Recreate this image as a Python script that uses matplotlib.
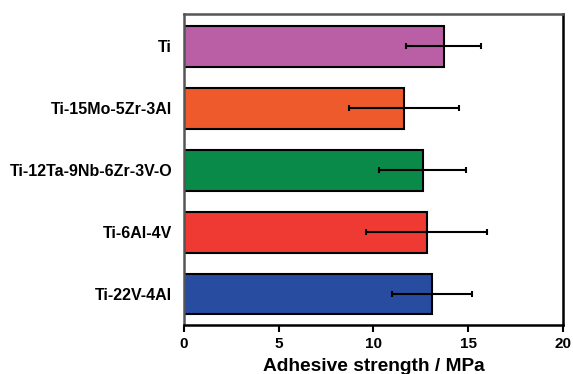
import matplotlib.pyplot as plt

plt.rcParams['font.family'] = ['Liberation Sans', 'DejaVu Sans']
plt.rcParams['font.weight'] = 'bold'

# 数据
alloys = ['Ti', 'Ti-15Mo-5Zr-3Al', 'Ti-12Ta-9Nb-6Zr-3V-O', 'Ti-6Al-4V', 'Ti-22V-4Al']
strength = [13.7, 11.6, 12.6, 12.8, 13.1]
err = [2.0, 2.9, 2.3, 3.2, 2.1]
colors = ['#BA5FA5', '#EE5A2C', '#0A8A48', '#EE3A33', '#284CA0']

fig = plt.figure(figsize=(5.73, 3.74), dpi=100)
ax = fig.add_axes([0.321, 0.131, 0.6615, 0.8316])

ypos = list(range(len(alloys)))[::-1]
ax.barh(ypos, strength, height=0.66, color=colors, edgecolor='black', linewidth=1.5)
ax.errorbar(strength, ypos, xerr=err, fmt='none', ecolor='black',
            elinewidth=1.5, capsize=2, capthick=1.5)

ax.set_xlim(0, 20)
ax.set_ylim(-0.5, 4.52)
ax.set_xticks([0, 5, 10, 15, 20])
ax.set_yticks(ypos)
ax.set_yticklabels(alloys, fontsize=11.5, fontweight='bold')
ax.tick_params(axis='y', length=0, pad=8.5)
ax.tick_params(axis='x', length=5, width=1.5, labelsize=11, pad=3.5)
for lab in ax.get_xticklabels():
    lab.set_fontweight('bold')
ax.set_xlabel('Adhesive strength / MPa', fontsize=13.8, fontweight='bold', labelpad=5)

for s in ['left', 'top']:
    ax.spines[s].set_color('#555555')
    ax.spines[s].set_linewidth(1.8)
for s in ['right', 'bottom']:
    ax.spines[s].set_color('black')
    ax.spines[s].set_linewidth(1.8)

fig.savefig('out.png', dpi=100)
